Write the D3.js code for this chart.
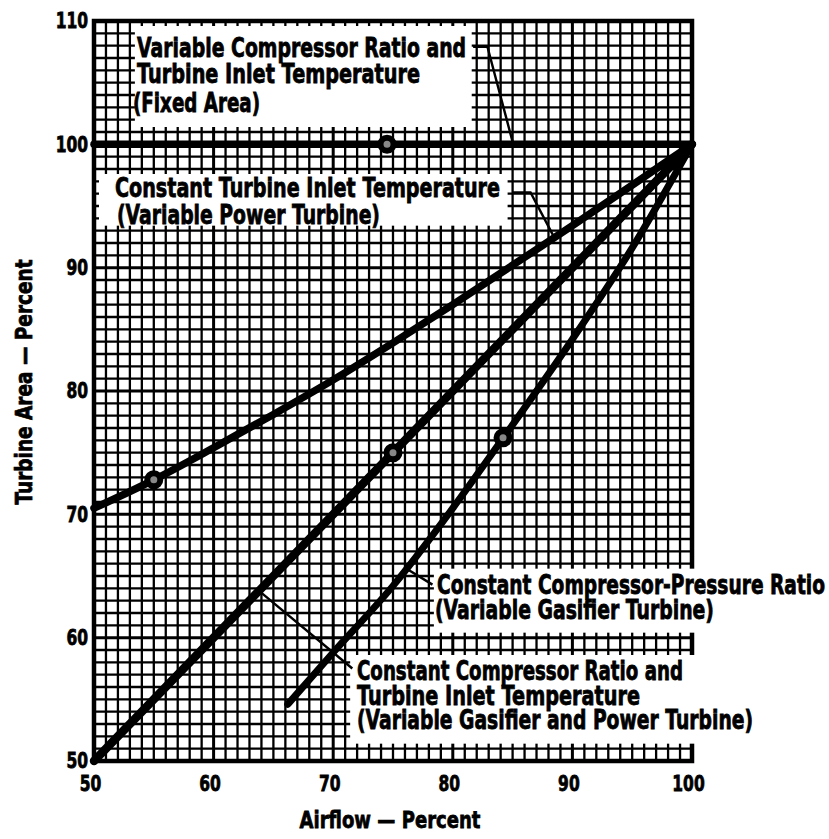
<!DOCTYPE html>
<html>
<head>
<meta charset="utf-8">
<script src="https://cdn.jsdelivr.net/npm/d3@7/dist/d3.min.js"></script>
<style>
  html, body { margin: 0; padding: 0; background: #fff; }
  svg { display: block; }
  text { font-family: 'DejaVu Sans', sans-serif; font-weight: bold; fill: #000; stroke: #000; stroke-width: 0.6px; }
</style>
</head>
<body>
<svg id="chart" width="829" height="839"></svg>
<script>
// ---------------- data ----------------
const xTicks = [50, 60, 70, 80, 90, 100];
const yTicks = [50, 60, 70, 80, 90, 100, 110];

// Variable compressor ratio and turbine inlet temperature (fixed area)
const airflowFixed = [50, 100];
const areaFixed    = [100, 100];

// Constant turbine inlet temperature (variable power turbine)
const airflowPower = [50, 55, 60, 65, 70, 75, 80, 85, 90, 95, 100];
const areaPower    = [70.5, 72.8, 75.4, 78.1, 80.9, 83.9, 87.0, 90.2, 93.4, 96.7, 100];

// Constant compressor ratio and turbine inlet temperature (variable gasifier and power turbine)
const airflowBoth = [50, 100];
const areaBoth    = [50, 100];

// Constant compressor-pressure ratio (variable gasifier turbine)
const airflowGasifier = [66.2, 70, 75, 80, 84, 90, 95, 100];
const areaGasifier    = [54.6, 58.8, 64.2, 70.5, 75.9, 84.2, 91.6, 100];

// circle markers
const markerAirflow = [74.5, 55, 75, 84.2];
const markerArea    = [100, 72.8, 75, 76.2];

const label1 = ["Variable Compressor Ratio and", "Turbine Inlet Temperature", "(Fixed Area)"];
const label2 = ["Constant Turbine Inlet Temperature", "(Variable Power Turbine)"];
const label3 = ["Constant Compressor-Pressure Ratio", "(Variable Gasifier Turbine)"];
const label4 = ["Constant Compressor Ratio and", "Turbine Inlet Temperature", "(Variable Gasifier and Power Turbine)"];

const xTitle = "Airflow \u2014 Percent";
const yTitle = "Turbine Area \u2014 Percent";

// ---------------- layout ----------------
const svg = d3.select("#chart");
svg.append("rect").attr("width", 829).attr("height", 839).attr("fill", "#fff");

const x = d3.scaleLinear().domain([50, 100]).range([94, 692]);
const y = d3.scaleLinear().domain([50, 110]).range([761, 21]);

// grid
const grid = svg.append("g");
grid.selectAll("line.v").data(d3.range(50, 101)).join("line")
  .attr("x1", d => x(d)).attr("x2", d => x(d))
  .attr("y1", y(110)).attr("y2", y(50))
  .attr("stroke", "#000").attr("stroke-width", d => d % 10 === 0 ? 3 : 2.3);
grid.selectAll("line.h").data(d3.range(50, 111)).join("line")
  .attr("y1", d => y(d)).attr("y2", d => y(d))
  .attr("x1", x(50)).attr("x2", x(100))
  .attr("stroke", "#000").attr("stroke-width", d => d % 10 === 0 ? 3 : 2.3);

// frame
svg.append("rect").attr("x", x(50)).attr("y", y(110))
  .attr("width", x(100) - x(50)).attr("height", y(50) - y(110))
  .attr("fill", "none").attr("stroke", "#000").attr("stroke-width", 4.5);

// white label boxes (grid stubs remain at their edges)
const inset = 5;
const boxes = [
  {x0: 53, x1: 82, y0: 101, y1: 110},
  {x0: 50, x1: 85, y0: 93, y1: 98},
  {x0: 78, x1: 112, y0: 60, y1: 66},
  {x0: 71, x1: 112, y0: 51, y1: 59}
];
svg.append("g").selectAll("rect").data(boxes).join("rect")
  .attr("x", d => x(d.x0) + inset)
  .attr("y", d => y(d.y1) + inset)
  .attr("width", d => x(d.x1) - x(d.x0) - 2 * inset)
  .attr("height", d => y(d.y0) - y(d.y1) - 2 * inset)
  .attr("fill", "#fff");

// data lines
const line = d3.line().x(d => x(d[0])).y(d => y(d[1])).curve(d3.curveMonotoneX);
const series = [
  {xs: airflowFixed, ys: areaFixed, w: 7.5},
  {xs: airflowPower, ys: areaPower, w: 7.5},
  {xs: airflowBoth, ys: areaBoth, w: 8.5},
  {xs: airflowGasifier, ys: areaGasifier, w: 7}
];
svg.append("g").selectAll("path").data(series).join("path")
  .attr("d", s => line(s.xs.map((v, i) => [v, s.ys[i]])))
  .attr("fill", "none").attr("stroke", "#000")
  .attr("stroke-width", s => s.w).attr("stroke-linecap", "round");

// markers
svg.append("g").selectAll("circle").data(markerAirflow).join("circle")
  .attr("cx", d => x(d)).attr("cy", (d, i) => y(markerArea[i]))
  .attr("r", 6.5).attr("fill", "#888").attr("stroke", "#000").attr("stroke-width", 6);

// leader lines
const leaders = [
  [[81.7, 107.9], [82.9, 107.9], [85.0, 100.2]],
  [[85.0, 96.1], [86.5, 96.1], [88.4, 92.6]],
  [[78.3, 64.3], [76.1, 65.6]],
  [[63.8, 63.8], [71.6, 57.5]]
];
const straight = d3.line().x(d => x(d[0])).y(d => y(d[1]));
svg.append("g").selectAll("path").data(leaders).join("path")
  .attr("d", d => straight(d)).attr("fill", "none")
  .attr("stroke", "#000").attr("stroke-width", 2.4);

// stretched (condensed-looking) text helper
function tallText(parent, px, py, str, size, width, k, extra) {
  return parent.append("text")
    .attr("transform", `translate(${px},${py})${extra || ""} scale(1,${k})`)
    .attr("font-size", size)
    .attr("textLength", width).attr("lengthAdjust", "spacingAndGlyphs")
    .text(str);
}

// annotation text
function block(lines, x0, baselines, widths) {
  const g = svg.append("g");
  lines.forEach((t, i) => tallText(g, x(x0[i]), y(baselines[i]), t, 18.6, widths[i], 1.4));
}
block(label1, [53.6, 53.6, 53.26], [107.08, 104.97, 102.62], [329, 283, 127]);
block(label2, [51.76, 51.92], [95.73, 93.54], [385, 263]);
block(label3, [78.68, 78.51], [63.53, 61.5], [388, 279]);
block(label4, [71.99, 71.99, 71.99], [56.55, 54.53, 52.58], [326, 283, 396]);

// axes
const yAxis = svg.append("g").attr("transform", `translate(${x(50)},0)`)
  .call(d3.axisLeft(y).tickValues(yTicks).tickSize(0).tickPadding(6).tickFormat(d3.format("d")));
const xAxis = svg.append("g").attr("transform", `translate(0,${y(50)})`)
  .call(d3.axisBottom(x).tickValues(xTicks).tickSize(0).tickPadding(11).tickFormat(d3.format("d")));
[yAxis, xAxis].forEach(g => {
  g.select(".domain").remove();
  g.attr("font-family", null).attr("font-size", null);
  g.selectAll("text").attr("font-size", 15.5).attr("fill", "#000")
    .attr("transform", "scale(1,1.35)");
});
xAxis.selectAll("text").attr("dx", -4);

// titles
tallText(svg, 390, 828, xTitle, 18, 181, 1.3).attr("text-anchor", "middle");
tallText(svg, 32, 382, yTitle, 18, 245, 1.3, " rotate(-90)").attr("text-anchor", "middle");
</script>
</body>
</html>
